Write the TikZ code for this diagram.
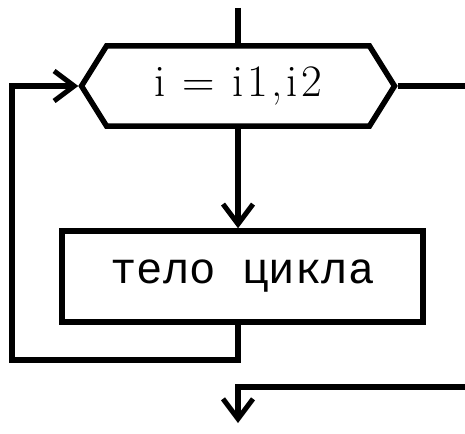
\documentclass[tikz,border=0pt]{standalone}
\usepackage{fontspec}
\newfontfamily\monocyr{Liberation Mono}
\newfontfamily\espace[LetterSpace=8]{Latin Modern Roman}
\usetikzlibrary{arrows.meta,shapes.symbols}
\begin{document}
\begin{tikzpicture}[x=1pt,y=-1pt]
			% Styles (MODIFIABLES)
			\tikzstyle{trait}=[line width=5.5pt]
			\tikzstyle{fleche}=[trait,-{Straight Barb[length=20pt,width=30pt,line width=5pt]}]
			\tikzstyle{boucle}=[draw,trait,signal,signal to=west and east,signal pointer angle=116,minimum width=313pt,minimum height=80pt,inner sep=0pt,font=\espace\fontsize{45}{52}\selectfont]
			\tikzstyle{bloc}=[draw,trait,rectangle,minimum width=361pt,minimum height=91pt,inner sep=0pt,font=\monocyr\fontsize{44}{52}\selectfont]
			% Dimensions (MODIFIABLES)
			\def\Axe{238}
			\def\Gauche{12}
			\def\Droite{465}
			\useasboundingbox (0,0) rectangle (465,433);
			% Noeuds
			\coordinate (haut) at (\Axe,8);
			\node[boucle] (cycle) at (\Axe,86) {i = i1,i2};
			\node[bloc] (corps) at (242.5,276.5) {тело цикла};
			\coordinate (coinG) at (\Gauche,360);
			\coordinate (sortieD) at (\Droite,86);
			\coordinate (entreeD) at (\Droite,387);
			\coordinate (sortie) at (\Axe,423);
			% Arcs
			\draw[trait] (haut)--(cycle.north);
			\draw[fleche] (cycle.south)--(cycle.south |- corps.north);
			\draw[fleche] (cycle.south |- corps.south)|-(coinG)|-(cycle.west);
			\draw[trait] (cycle.east)--(sortieD);
			\draw[fleche] (entreeD)-|(sortie);
		\end{tikzpicture}
\end{document}
